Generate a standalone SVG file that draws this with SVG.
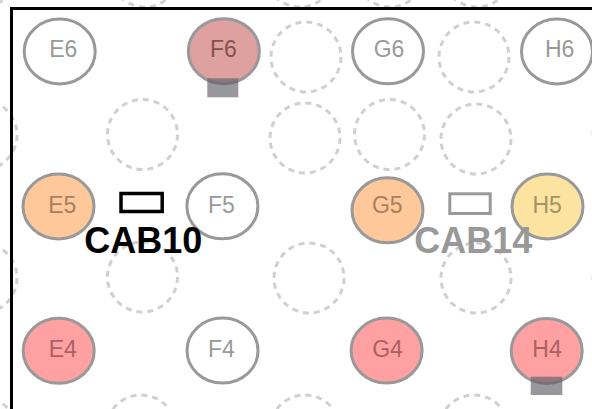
<svg xmlns="http://www.w3.org/2000/svg" width="592" height="409" viewBox="0 0 592 409">
<style>
.slot{fill:none;stroke:#d0d0d0;stroke-width:3;stroke-dasharray:6 5}
.well{stroke:#999;stroke-width:3}
.lbl{font-family:"Liberation Sans",Arial,sans-serif;font-size:23px;text-anchor:middle}
.cab{font-family:"Liberation Sans",Arial,sans-serif;font-size:36px;font-weight:bold;text-anchor:middle}
.mark{fill:#5f5f68;fill-opacity:0.65}
</style>
<rect width="592" height="409" fill="#fff"/>
<g id="slots">
<circle class="slot" cx="-18" cy="-28" r="35"/>
<circle class="slot" cx="145" cy="-28" r="35"/>
<circle class="slot" cx="300" cy="-28" r="35"/>
<circle class="slot" cx="390" cy="-28" r="35"/>
<circle class="slot" cx="477" cy="-28" r="35"/>
<circle class="slot" cx="306" cy="57" r="35"/>
<circle class="slot" cx="474" cy="57" r="35"/>
<circle class="slot" cx="-18" cy="135" r="35"/>
<circle class="slot" cx="142.5" cy="134.5" r="35"/>
<circle class="slot" cx="305" cy="138" r="35"/>
<circle class="slot" cx="389.5" cy="134.5" r="35"/>
<circle class="slot" cx="476" cy="139" r="35"/>
<circle class="slot" cx="628" cy="135" r="35"/>
<circle class="slot" cx="-18" cy="278" r="35"/>
<circle class="slot" cx="142.5" cy="277" r="35"/>
<circle class="slot" cx="309" cy="278" r="35"/>
<circle class="slot" cx="476" cy="278" r="35"/>
<circle class="slot" cx="628" cy="280" r="35"/>
<circle class="slot" cx="-18" cy="432" r="35"/>
<circle class="slot" cx="141" cy="430" r="35"/>
<circle class="slot" cx="305" cy="430" r="35"/>
<circle class="slot" cx="474" cy="430" r="35"/>
</g>
<g id="frame" stroke="#000" stroke-width="3" fill="none">
<path d="M11.5 409 V8.5 H592"/>
</g>
<g id="E6"><ellipse class="well" cx="59.7" cy="51.5" rx="35.5" ry="32.5" fill="#fff"/><text class="lbl" x="63.3" y="57.3" fill="#999">E6</text></g>
<g id="F6"><ellipse class="well" cx="223.8" cy="51.2" rx="35.5" ry="32.5" fill="#dfa19f"/><text class="lbl" x="223.3" y="57.3" fill="#855252">F6</text><rect class="mark" x="207.3" y="78.3" width="31" height="19"/></g>
<g id="G6"><ellipse class="well" cx="388" cy="51.3" rx="35.5" ry="32.5" fill="#fff"/><text class="lbl" x="389" y="57.3" fill="#999">G6</text></g>
<g id="H6"><ellipse class="well" cx="557" cy="51.5" rx="35.5" ry="32.5" fill="#fff"/><text class="lbl" x="559.6" y="57.3" fill="#999">H6</text></g>
<g id="E5"><ellipse class="well" cx="58.5" cy="206.5" rx="35.5" ry="32.5" fill="#fec89a"/><text class="lbl" x="62.3" y="213" fill="#a7815f">E5</text></g>
<g id="F5"><ellipse class="well" cx="222.4" cy="206.3" rx="35.5" ry="32.5" fill="#fff"/><text class="lbl" x="221.3" y="213" fill="#999">F5</text></g>
<g id="G5"><ellipse class="well" cx="387.5" cy="210.3" rx="35.5" ry="32.5" fill="#fec89a"/><text class="lbl" x="387.3" y="212.7" fill="#a7815f">G5</text></g>
<g id="H5"><ellipse class="well" cx="547.5" cy="206.5" rx="35.5" ry="32.5" fill="#fce3a0"/><text class="lbl" x="547.2" y="213" fill="#a39366">H5</text></g>
<g id="E4"><ellipse class="well" cx="58.7" cy="350.8" rx="35.5" ry="32.5" fill="#ffa0a2"/><text class="lbl" x="62.7" y="357.3" fill="#a86264">E4</text></g>
<g id="F4"><ellipse class="well" cx="222.5" cy="350.6" rx="35.5" ry="32.5" fill="#fff"/><text class="lbl" x="221.3" y="357.3" fill="#999">F4</text></g>
<g id="G4"><ellipse class="well" cx="386.6" cy="350.6" rx="35.5" ry="32.5" fill="#ffa0a2"/><text class="lbl" x="387.5" y="357.3" fill="#a86264">G4</text></g>
<g id="H4"><ellipse class="well" cx="546.7" cy="351" rx="35.5" ry="32.5" fill="#ffa0a2"/><text class="lbl" x="547" y="357" fill="#a86264">H4</text><rect class="mark" x="530.7" y="376.7" width="31.6" height="18.3"/></g>
<g id="CAB10"><rect x="121" y="193.5" width="41.2" height="18" fill="none" stroke="#000" stroke-width="3.5"/><text class="cab" x="143.3" y="253" fill="#000">CAB10</text></g>
<g id="CAB14"><rect x="449.8" y="193.8" width="40.4" height="19.7" fill="none" stroke="#999" stroke-width="3"/><text class="cab" x="473.3" y="253" fill="#999">CAB14</text></g>
</svg>
